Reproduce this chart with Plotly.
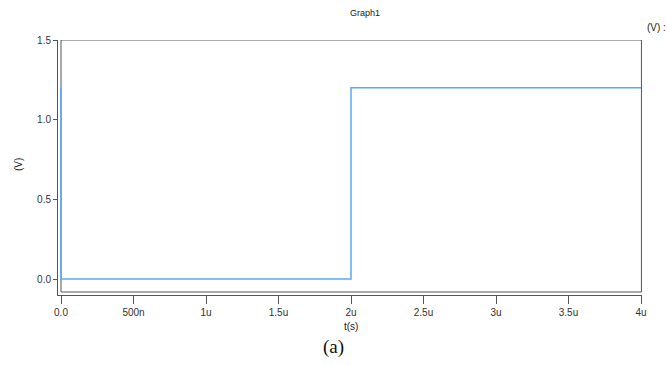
import plotly.graph_objects as go

# Data
time_s = [0, 0, 2e-6, 2e-6, 4e-6]
voltage_v = [1.2, 0.0, 0.0, 1.2, 1.2]
x_tick_vals = [0, 0.5e-6, 1e-6, 1.5e-6, 2e-6, 2.5e-6, 3e-6, 3.5e-6, 4e-6]
x_tick_text = ["0.0", "500n", "1u", "1.5u", "2u", "2.5u", "3u", "3.5u", "4u"]
y_tick_vals = [0, 0.5, 1.0, 1.5]
y_tick_text = ["0.0", "0.5", "1.0", "1.5"]

W, H = 667, 365
L, R, T, B = 58, 642, 40, 295  # pixel extents of plotting area (incl. axis lines)
x0px, x1px = 61, 641   # t=0 and t=4u
pxu = (x1px - x0px) / 4e-6
xr = [(L - x0px) / pxu, 4e-6 + (R - x1px) / pxu]
y0px, y15px = 279, 40
pyv = (y0px - y15px) / 1.5
yr = [-(B - y0px) / pyv, 1.5 + (y15px - T) / pyv]

font = dict(family="Liberation Sans, Arial, sans-serif", size=10, color="#333333")


def px(xp):
    return (xp - L) / (R - L)


def py(yp):
    return (B - yp) / (B - T)


def ann(text, xp, yp, size=10, family="Liberation Sans, Arial", color="#222", angle=0):
    return dict(text=text, xref="paper", yref="paper", x=px(xp), y=py(yp),
                xanchor="center", yanchor="middle", showarrow=False, textangle=angle,
                font=dict(family=family, size=size, color=color))


fig = go.Figure()
fig.add_trace(go.Scatter(x=time_s, y=voltage_v, mode="lines",
                         line=dict(color="#5aaaf5", width=1.5), showlegend=False,
                         hoverinfo="skip"))

fig.update_layout(
    width=W, height=H,
    margin=dict(l=L, r=W - R, t=T, b=H - B, pad=0),
    paper_bgcolor="white", plot_bgcolor="white",
    font=font,
    xaxis=dict(range=xr, tickvals=x_tick_vals, ticktext=x_tick_text,
               showgrid=False, zeroline=False, showline=True, linecolor="#555555",
               linewidth=1, ticks="outside", ticklen=8, tickcolor="#555555",
               tickfont=font),
    yaxis=dict(range=yr, tickvals=y_tick_vals, ticktext=y_tick_text,
               showgrid=False, zeroline=False, showline=True, linecolor="#555555",
               linewidth=1, ticks="outside", ticklen=4, tickcolor="#555555",
               tickfont=font),
    shapes=[dict(type="rect", xref="x", yref="y", x0=0, x1=4.003e-6,
                 y0=-(292 - y0px) / pyv, y1=1.5,
                 line=dict(color="#555555", width=1), layer="below")],
    annotations=[
        ann("Graph1", 365, 13, size=9),
        ann("(V) :", 656, 28, size=10),
        ann("(V)", 18, 165, size=10, angle=-90),
        ann("t(s)", 351, 326, size=10),
        ann("(a)", 333, 347, size=19, family="Liberation Serif, Times New Roman, serif", color="#111"),
    ],
)

fig.write_html("out.html")
